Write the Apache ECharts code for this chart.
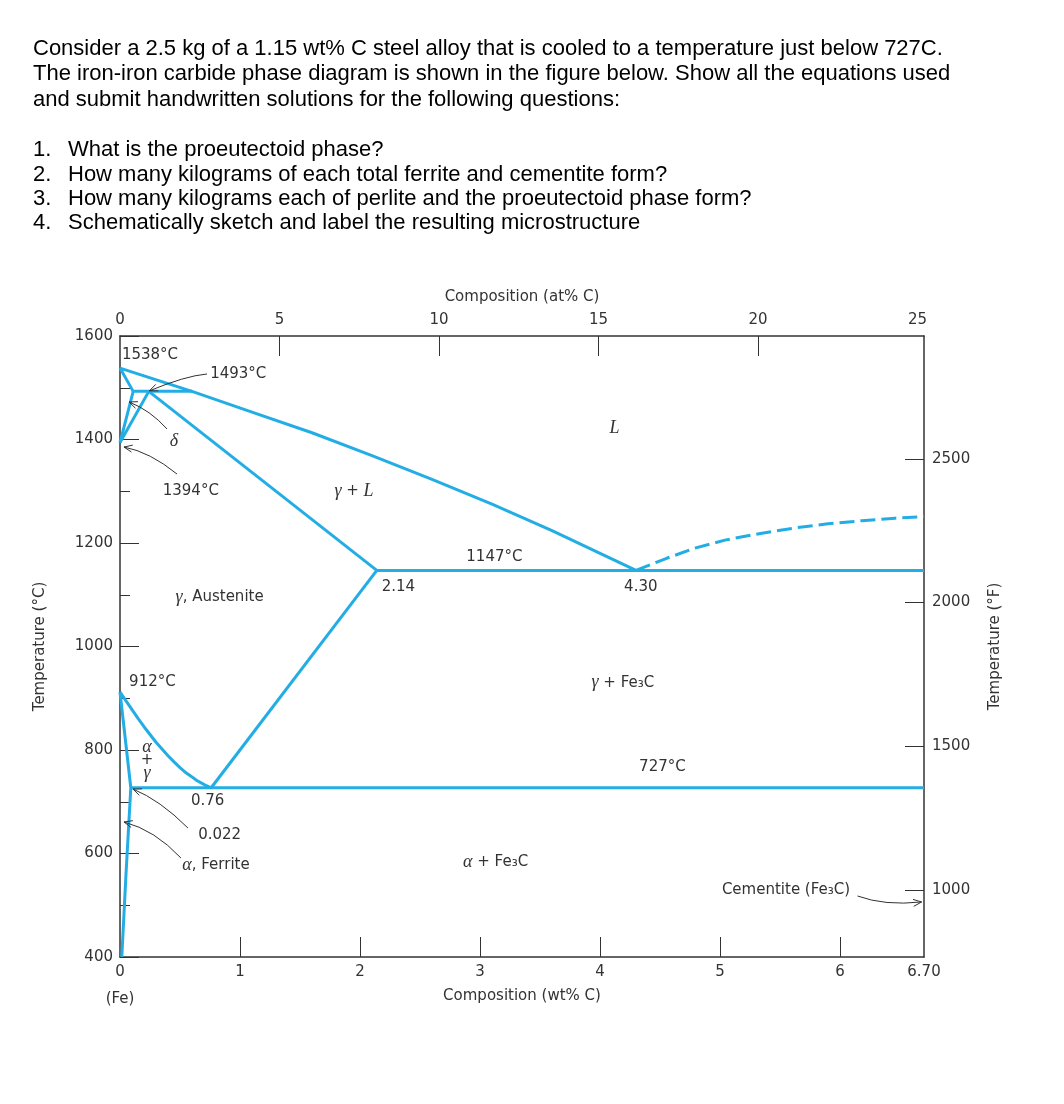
<!DOCTYPE html>
<html><head><meta charset="utf-8">
<script src="https://cdn.jsdelivr.net/npm/echarts@6/dist/echarts.min.js"></script>
<style>html,body{margin:0;padding:0;background:#fff}#c{width:1064px;height:1104px}</style>
</head><body><div id="c"></div>
<script>
// ---------- phase boundary data (wt% C, °C) ----------
const liquidusWt = [0, 0.6, 1.1, 1.6, 2.1, 2.6, 3.1, 3.6, 4.30];
const liquidusT  = [1538, 1493, 1453, 1413, 1369, 1323, 1275, 1224, 1147];
const deltaSolidusWt = [0, 0.11];
const deltaSolidusT  = [1538, 1493];
const deltaSolvusWt = [0.11, 0];
const deltaSolvusT  = [1493, 1394];
const gammaDeltaWt = [0, 0.24];
const gammaDeltaT  = [1394, 1493];
const peritecticWt = [0.11, 0.6];
const peritecticT  = [1493, 1493];
const gammaSolidusWt = [0.24, 2.14];
const gammaSolidusT  = [1493, 1147];
const eutecticWt = [2.14, 6.70];
const eutecticT  = [1147, 1147];
const acmWt = [2.14, 0.76];
const acmT  = [1147, 727];
const a3Wt = [0, 0.05, 0.1, 0.15, 0.2, 0.25, 0.3, 0.35, 0.4, 0.45, 0.5, 0.55, 0.6, 0.64, 0.68, 0.72, 0.76];
const a3T  = [912, 895, 878, 861, 845, 830, 815, 802, 789, 777, 766, 756, 748, 741, 736, 731, 727];
const alphaWt = [0, 0.09, 0.05, 0.015];
const alphaT  = [912, 727, 560, 400];
const eutectoidWt = [0.09, 6.70];
const eutectoidT  = [727, 727];
const cementiteLiqWt = [4.30, 4.55, 4.79, 5.05, 5.35, 5.62, 5.90, 6.18, 6.46, 6.70];
const cementiteLiqT  = [1147, 1170, 1190, 1206, 1219, 1229, 1237, 1243, 1248, 1251];

// ---------- axis ticks / labels ----------
const wtTicks = [1, 2, 3, 4, 5, 6];
const wtLabels = [0, 1, 2, 3, 4, 5, 6, 6.7];
const atTicks = [5, 10, 15, 20];
const atLabels = [0, 5, 10, 15, 20, 25];
const fTicks = [1000, 1500, 2000, 2500];

// ---------- annotations (text, wt%, °C) ----------
const labelText = ['1538°C', '1493°C', '{g|δ}', '1394°C', '{g|γ} + {g|L}', '{g|L}', '1147°C', '2.14', '4.30',
  '{g|γ}, Austenite', '912°C', '{g|γ} + Fe₃C', '{g|α}\n+\n{g|γ}', '727°C', '0.76', '0.022', '{g|α}, Ferrite',
  '{g|α} + Fe₃C', 'Cementite (Fe₃C)'];
const labelWt = [0.25, 0.985, 0.45, 0.59, 1.95, 4.12, 3.12, 2.32, 4.34, 0.83, 0.27, 4.19, 0.225, 4.52, 0.73, 0.83, 0.80, 3.13, 5.55];
const labelT  = [1563, 1527, 1397, 1300, 1300, 1422, 1173, 1115, 1115, 1096, 931, 930, 781, 767, 701, 636, 578, 584, 530];

// ---------- arrow annotations: start, control, end (wt%, °C) ----------
const arrowWt0 = [0.725, 0.392, 0.475, 0.566, 0.508, 6.146];
const arrowT0  = [1526.6, 1420.3, 1333.3, 649.3, 591.3, 517.9];
const arrowCWt = [0.54, 0.25, 0.25, 0.333, 0.29, 6.371];
const arrowCT  = [1522.7, 1457, 1375.8, 703.4, 645.4, 498.6];
const arrowWt1 = [0.245, 0.075, 0.033, 0.108, 0.033, 6.68];
const arrowT1  = [1494, 1472.5, 1385.5, 724.6, 660.9, 506.3];

const BLUE = '#23ade5';
const AX = '#333';
const TXT = '#333';
const SANS = '"DejaVu Sans", sans-serif';
const SERIF = '"Liberation Serif", "DejaVu Serif", serif';
const QFONT = '"Liberation Sans", Arial, sans-serif';
const zip = (xs, ys) => xs.map((x, i) => [x, ys[i]]);

function boundary(xs, ys, opts) {
  return Object.assign({
    type: 'line', data: zip(xs, ys), symbol: 'none', clip: false, silent: true,
    lineStyle: { color: BLUE, width: 3, join: 'round' }, z: 3
  }, opts || {});
}

const RICH = {
  g: { fontFamily: SERIF, fontStyle: 'italic', fontSize: 18, fill: TXT, color: TXT }
};

const chart = echarts.init(document.getElementById('c'), null, { renderer: 'canvas' });
const axisName = { fontFamily: SANS, fontSize: 15, color: TXT };
const axisLab = { fontFamily: SANS, fontSize: 15, color: TXT };
const plain = v => String(v);

chart.setOption({
  animation: false,
  backgroundColor: '#fff',
  grid: { left: 120, right: 140, top: 336, bottom: 147, containLabel: false },
  graphic: [
    { type: 'text', left: 33, top: 36, style: {
      text: 'Consider a 2.5 kg of a 1.15 wt% C steel alloy that is cooled to a temperature just below 727C.\nThe iron-iron carbide phase diagram is shown in the figure below. Show all the equations used\nand submit handwritten solutions for the following questions:',
      fontFamily: QFONT, fontSize: 22, lineHeight: 25.5, fill: '#000' } },
    { type: 'text', left: 33, top: 138, style: {
      text: '1.\n2.\n3.\n4.', fontFamily: QFONT, fontSize: 22, lineHeight: 24.3, fill: '#000' } },
    { type: 'text', left: 68, top: 138, style: {
      text: 'What is the proeutectoid phase?\nHow many kilograms of each total ferrite and cementite form?\nHow many kilograms each of perlite and the proeutectoid phase form?\nSchematically sketch and label the resulting microstructure',
      fontFamily: QFONT, fontSize: 22, lineHeight: 24.3, fill: '#000' } }
  ],
  xAxis: [
    {
      type: 'value', position: 'bottom', min: 0, max: 6.7,
      axisLine: { show: true, onZero: false, lineStyle: { color: AX, width: 1.5 } },
      axisTick: { show: true, inside: true, length: 20, customValues: wtTicks, lineStyle: { color: AX, width: 1 } },
      axisLabel: Object.assign({
        customValues: wtLabels, margin: 8,
        formatter: v => v === 6.7 ? '6.70' : (v === 0 ? '0\n{fe|(Fe)}' : String(v)),
        rich: { fe: { fontFamily: SANS, fontSize: 15, color: TXT, lineHeight: 32, padding: [6, 0, 0, 0] } }
      }, axisLab),
      splitLine: { show: false },
      name: 'Composition (wt% C)', nameLocation: 'middle', nameGap: 32, nameMoveOverlap: false,
      nameTextStyle: axisName
    },
    {
      type: 'value', position: 'top', min: 0, max: 25.2,
      axisLine: { show: true, onZero: false, lineStyle: { color: AX, width: 1.5 } },
      axisTick: { show: true, inside: true, length: 20, customValues: atTicks, lineStyle: { color: AX, width: 1 } },
      axisLabel: Object.assign({ customValues: atLabels, margin: 8, formatter: plain }, axisLab),
      splitLine: { show: false },
      name: 'Composition (at% C)', nameLocation: 'middle', nameGap: 31, nameMoveOverlap: false,
      nameTextStyle: axisName
    }
  ],
  yAxis: [
    {
      type: 'value', position: 'left', min: 400, max: 1600, interval: 200,
      axisLine: { show: true, onZero: false, lineStyle: { color: AX, width: 1.5 } },
      axisTick: { show: true, inside: true, length: 19, lineStyle: { color: AX, width: 1 } },
      minorTick: { show: true, splitNumber: 2, length: 10, lineStyle: { color: AX, width: 1 } },
      axisLabel: Object.assign({ margin: 7, formatter: plain }, axisLab),
      splitLine: { show: false }, minorSplitLine: { show: false },
      name: 'Temperature (°C)', nameLocation: 'middle', nameRotate: 90, nameGap: 72, nameMoveOverlap: false,
      nameTextStyle: axisName
    },
    {
      type: 'value', position: 'right', min: 767, max: 2927,
      axisLine: { show: true, onZero: false, lineStyle: { color: AX, width: 1.5 } },
      axisTick: { show: true, inside: true, length: 19, customValues: fTicks, lineStyle: { color: AX, width: 1 } },
      axisLabel: Object.assign({ customValues: fTicks, margin: 8, formatter: plain }, axisLab),
      splitLine: { show: false },
      name: 'Temperature (°F)', nameLocation: 'middle', nameRotate: 90, nameGap: 64, nameMoveOverlap: false,
      nameTextStyle: axisName
    }
  ],
  series: [
    boundary(liquidusWt, liquidusT),
    boundary(deltaSolidusWt, deltaSolidusT),
    boundary(deltaSolvusWt, deltaSolvusT),
    boundary(gammaDeltaWt, gammaDeltaT),
    boundary(peritecticWt, peritecticT),
    boundary(gammaSolidusWt, gammaSolidusT),
    boundary(eutecticWt, eutecticT),
    boundary(acmWt, acmT),
    boundary(a3Wt, a3T),
    boundary(alphaWt, alphaT),
    boundary(eutectoidWt, eutectoidT),
    boundary(cementiteLiqWt, cementiteLiqT, {
      lineStyle: { color: BLUE, width: 3, type: [15, 6] } }),
    {
      type: 'custom', coordinateSystem: 'cartesian2d', clip: false, silent: true, z: 5,
      data: zip(labelWt, labelT),
      renderItem: function (params, api) {
        const p = api.coord([api.value(0), api.value(1)]);
        const i = params.dataIndex;
        return {
          type: 'text', x: p[0], y: p[1],
          style: {
            text: labelText[i], rich: RICH, fontFamily: SANS, fontSize: 15, fill: TXT,
            align: 'center', verticalAlign: 'middle', lineHeight: i === 12 ? 13 : 18
          }
        };
      }
    },
    {
      type: 'custom', coordinateSystem: 'cartesian2d', clip: false, silent: true, z: 4,
      data: zip(arrowWt0, arrowT0),
      renderItem: function (params, api) {
        const i = params.dataIndex;
        const s = api.coord([arrowWt0[i], arrowT0[i]]);
        const c = api.coord([arrowCWt[i], arrowCT[i]]);
        const e = api.coord([arrowWt1[i], arrowT1[i]]);
        const ang = Math.atan2(e[1] - c[1], e[0] - c[0]);
        const L = 9, a = 0.4;
        const h1 = [e[0] - L * Math.cos(ang - a), e[1] - L * Math.sin(ang - a)];
        const h2 = [e[0] - L * Math.cos(ang + a), e[1] - L * Math.sin(ang + a)];
        return {
          type: 'group', children: [
            { type: 'bezierCurve', shape: { x1: s[0], y1: s[1], x2: e[0], y2: e[1], cpx1: c[0], cpy1: c[1] },
              style: { stroke: '#333', fill: null, lineWidth: 1 } },
            { type: 'polyline', shape: { points: [h1, e, h2] },
              style: { stroke: '#333', fill: null, lineWidth: 1 } }
          ]
        };
      }
    }
  ]
});
</script></body></html>
